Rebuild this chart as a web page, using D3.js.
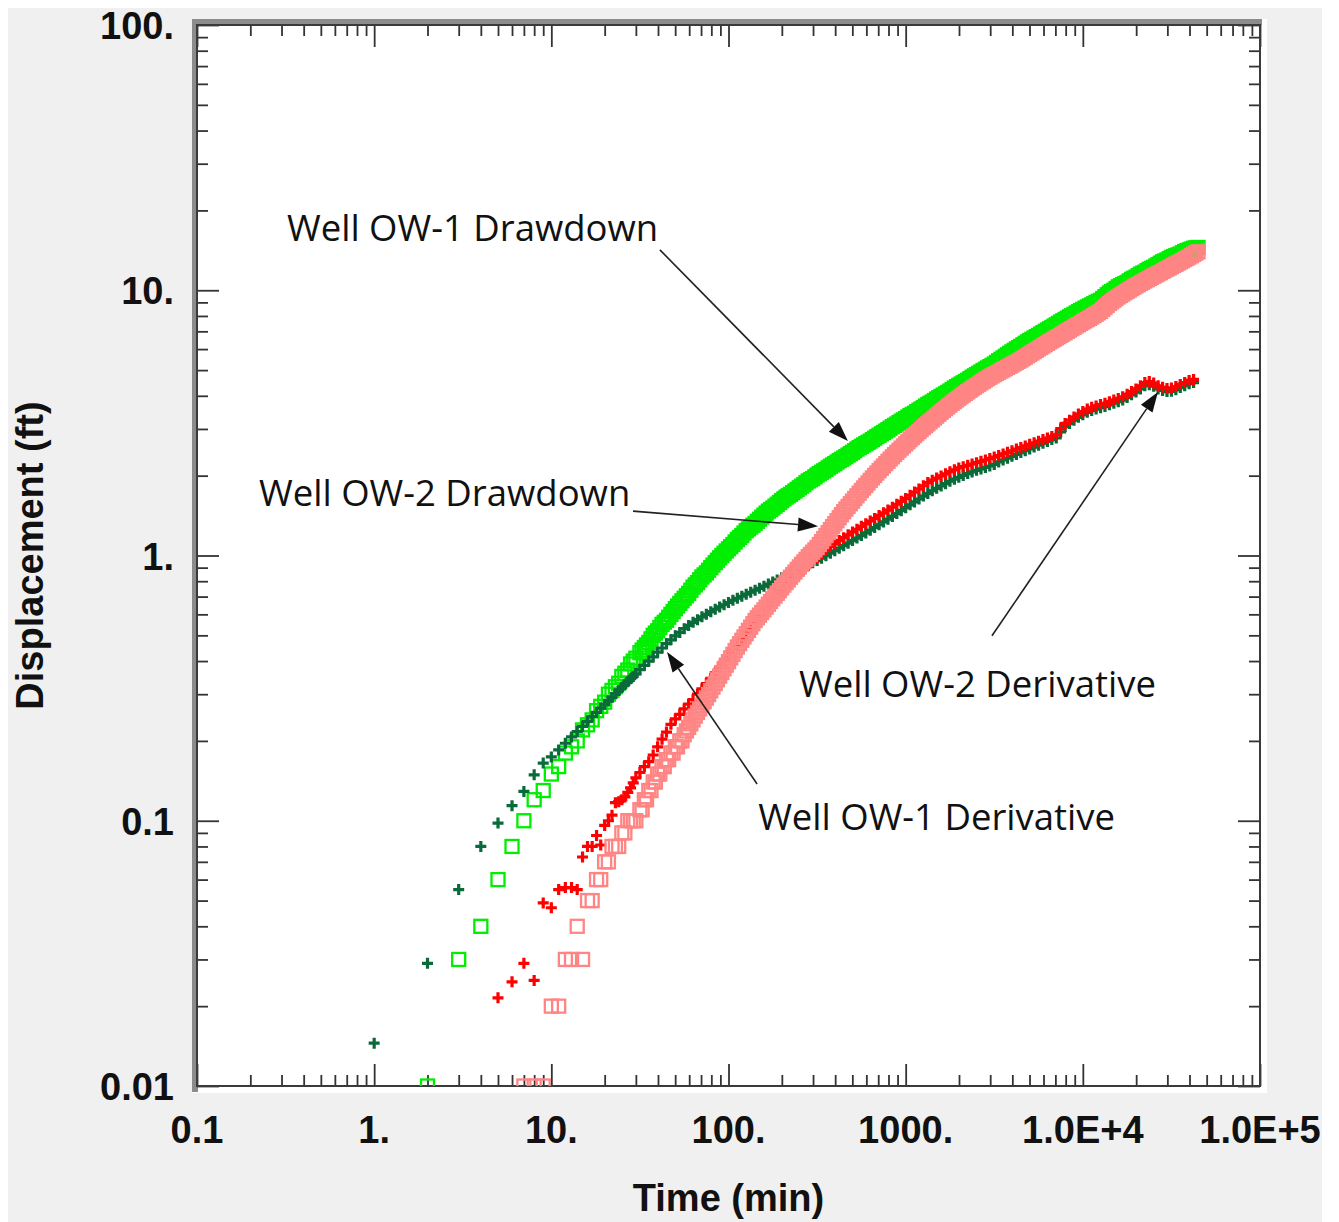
<!DOCTYPE html>
<html><head><meta charset="utf-8">
<script src="https://cdn.jsdelivr.net/npm/d3@7"></script>
<style>body{margin:0;background:#fff}</style>
</head><body>
<svg id="c" width="1339" height="1222"></svg>
<script>
// ---------------- DATA ----------------
// derivative sampling times (min)
const derivTime = [1,2,3,4,5,6,7,8,9,10,11,12,13,14,15,16,17,18,19,20,21,22,23,24,25,26,27,28,29,30,
 31.62,33.50,35.48,37.58,39.81,42.17,44.67,47.32,50.12,53.09,
 56.23,59.57,63.10,66.83,70.79,74.99,79.43,84.14,89.13,94.41,
 100,105.9,112.2,118.9,125.9,133.4,141.3,149.6,158.5,167.9,
 177.8,188.4,199.5,211.3,223.9,237.1,251.2,266.1,281.8,298.5,
 316.2,335.0,354.8,375.8,398.1,421.7,446.7,473.2,501.2,530.9,
 562.3,595.7,631.0,668.3,707.9,749.9,794.3,841.4,891.3,944.1,
 1000,1059,1122,1189,1259,1334,1413,1496,1585,1679,
 1778,1884,1995,2113,2239,2371,2512,2661,2818,2985,
 3162,3350,3548,3758,3981,4217,4467,4732,5012,5309,
 5623,5957,6310,6683,7079,7499,7943,8414,8913,9441,
 10000,10593,11220,11885,12589,13335,14125,14962,15849,16788,
 17783,18836,19953,21135,22387,23714,25119,26607,28184,29854,
 31623,33497,35481,37584,39811,42170,44668];

// drawdown sampling times (min)
const drawTime = [1,2,3,4,5,6,7,8,9,10,11,12,13,14,15,16,17,18,19,20,21,22,23,24,25,26,27,28,29,30,
 31.62,32.55,33.50,34.47,35.48,36.52,37.58,38.68,39.81,40.97,42.17,43.40,44.67,45.97,47.32,48.70,50.12,51.58,53.09,54.64,
 56.23,57.88,59.57,61.31,63.10,64.94,66.83,68.79,70.79,72.86,74.99,77.18,79.43,81.75,84.14,86.60,89.13,91.73,94.41,97.16,
 100,102.9,105.9,109.0,112.2,115.5,118.9,122.3,125.9,129.6,133.4,137.3,141.3,145.4,149.6,154.0,158.5,163.1,167.9,172.8,
 177.8,183.0,188.4,193.9,199.5,205.4,211.4,217.5,223.9,230.4,237.1,244.1,251.2,258.5,266.1,273.8,281.8,290.1,298.5,307.3,
 316.2,325.5,335.0,344.8,354.8,365.2,375.8,386.8,398.1,409.7,421.7,434.0,446.7,459.7,473.2,487.0,501.2,515.8,530.9,546.4,
 562.3,578.8,595.7,613.1,631.0,649.4,668.3,687.9,707.9,728.6,749.9,771.8,794.3,817.5,841.4,866.0,891.3,917.3,944.1,971.6,
 1000,1029,1059,1090,1122,1155,1189,1223,1259,1296,1334,1372,1413,1454,1496,1540,1585,1631,1679,1728,
 1778,1830,1884,1939,1995,2054,2114,2175,2239,2304,2371,2441,2512,2585,2661,2738,2818,2901,2985,3073,
 3162,3255,3350,3448,3548,3652,3758,3868,3981,4097,4217,4340,4467,4597,4732,4870,5012,5158,5309,5464,
 5623,5788,5957,6131,6310,6494,6683,6879,7079,7286,7499,7718,7943,8175,8414,8660,8913,9173,9441,9716,
 10000,10292,10593,10902,11220,11548,11885,12232,12589,12957,13335,13725,14125,14537,14962,15399,15849,16312,16788,17278,
 17783,18302,18836,19387,19953,20535,21135,21752,22387,23041,23714,24406,25119,25852,26607,27384,28184,29007,29854,30726,
 31623,32546,33497,34475,35481,36517,37584,38681,39811,40973,42170,43401,44668];

const ow1Drawdown = [null,0.01,0.03,0.04,0.06,0.08,0.10,0.12,0.13,0.15,0.16,0.18,0.19,0.20,0.22,0.23,0.24,0.26,0.27,0.28,0.30,0.31,0.32,0.33,0.35,0.36,0.37,0.39,0.40,0.41,
 0.43,0.44,0.45,0.46,0.47,0.485,0.50,0.51,0.52,0.535,0.55,0.56,0.57,0.585,0.60,0.615,0.63,0.645,0.66,0.675,
 0.69,0.705,0.72,0.74,0.76,0.775,0.79,0.81,0.83,0.845,0.86,0.88,0.90,0.92,0.94,0.96,0.98,1.00,1.02,1.04,
 1.06,1.08,1.10,1.125,1.15,1.17,1.19,1.215,1.24,1.26,1.28,1.30,1.32,1.345,1.37,1.395,1.42,1.445,1.47,1.49,
 1.51,1.535,1.56,1.585,1.61,1.635,1.66,1.68,1.70,1.725,1.75,1.775,1.80,1.825,1.85,1.88,1.91,1.93,1.95,1.98,
 2.01,2.035,2.06,2.085,2.11,2.14,2.17,2.195,2.22,2.25,2.28,2.305,2.33,2.36,2.39,2.42,2.45,2.485,2.52,2.55,
 2.58,2.61,2.64,2.67,2.70,2.735,2.77,2.805,2.84,2.875,2.91,2.945,2.98,3.02,3.06,3.095,3.13,3.17,3.21,3.245,
 3.28,3.325,3.37,3.405,3.44,3.485,3.53,3.57,3.61,3.66,3.71,3.75,3.79,3.84,3.89,3.935,3.98,4.025,4.07,4.12,
 4.17,4.225,4.28,4.33,4.38,4.43,4.48,4.53,4.58,4.64,4.70,4.755,4.81,4.865,4.92,4.98,5.04,5.095,5.15,5.21,
 5.27,5.345,5.42,5.49,5.56,5.635,5.71,5.785,5.86,5.935,6.01,6.08,6.15,6.23,6.31,6.385,6.46,6.535,6.61,6.685,
 6.76,6.84,6.92,7.00,7.08,7.16,7.24,7.325,7.41,7.50,7.59,7.675,7.76,7.85,7.94,8.025,8.11,8.205,8.30,8.385,
 8.47,8.56,8.65,8.73,8.81,8.905,9.00,9.08,9.16,9.31,9.46,9.615,9.77,9.885,10.0,10.15,10.3,10.4,10.5,10.6,
 10.7,10.85,11.0,11.1,11.2,11.35,11.5,11.6,11.7,11.85,12.0,12.1,12.2,12.35,12.5,12.65,12.8,12.9,13.0,13.15,
 13.3,13.4,13.5,13.6,13.7,13.85,14.0,14.1,14.2,14.3,14.4,14.45,14.5];

const ow2Drawdown = [null,null,null,null,null,null,0.01,0.01,0.01,0.02,0.02,0.03,0.03,0.04,0.03,0.05,0.05,0.06,0.06,0.07,0.07,0.08,0.08,0.08,0.09,0.09,0.10,0.10,0.10,0.10,
 0.11,0.11,0.12,0.12,0.13,0.13,0.14,0.14,0.15,0.15,0.16,0.16,0.17,0.17,0.18,0.18,0.19,0.19,0.20,0.20,
 0.211,0.218,0.225,0.232,0.240,0.248,0.256,0.264,0.272,0.281,0.290,0.299,0.309,0.319,0.329,0.340,0.351,0.362,0.374,0.386,
 0.398,0.411,0.424,0.438,0.452,0.465,0.479,0.493,0.507,0.522,0.537,0.553,0.569,0.582,0.596,0.610,0.624,0.639,0.655,0.671,
 0.687,0.703,0.720,0.737,0.755,0.773,0.791,0.809,0.828,0.847,0.866,0.886,0.906,0.926,0.946,0.967,0.989,1.009,1.029,1.050,
 1.072,1.100,1.128,1.158,1.189,1.220,1.252,1.285,1.318,1.353,1.388,1.425,1.462,1.496,1.531,1.567,1.603,1.641,1.679,1.718,
 1.758,1.797,1.837,1.878,1.919,1.961,2.003,2.046,2.089,2.132,2.175,2.220,2.265,2.310,2.355,2.402,2.449,2.495,2.541,2.588,
 2.636,2.684,2.733,2.782,2.831,2.881,2.931,2.982,3.034,3.085,3.137,3.190,3.243,3.298,3.353,3.410,3.467,3.522,3.577,3.633,
 3.690,3.746,3.802,3.859,3.917,3.972,4.027,4.083,4.140,4.195,4.251,4.308,4.365,4.421,4.477,4.534,4.592,4.645,4.699,4.753,
 4.808,4.858,4.909,4.960,5.012,5.064,5.117,5.170,5.224,5.282,5.340,5.399,5.458,5.525,5.592,5.660,5.728,5.798,5.868,5.940,
 6.012,6.085,6.158,6.234,6.310,6.383,6.457,6.532,6.607,6.684,6.761,6.839,6.918,6.998,7.079,7.161,7.244,7.328,7.413,7.499,
 7.586,7.670,7.754,7.839,7.925,8.022,8.119,8.218,8.318,8.464,8.610,8.761,8.913,9.043,9.173,9.307,9.441,9.556,9.672,9.790,
 9.908,10.02,10.14,10.26,10.38,10.49,10.61,10.72,10.84,10.95,11.07,11.18,11.30,11.41,11.53,11.65,11.78,11.90,12.02,12.14,
 12.27,12.40,12.53,12.66,12.79,12.92,13.06,13.20,13.34,13.49,13.65,13.80,13.96];

const ow1Derivative = [0.0145,0.029,0.055,0.080,0.098,0.114,0.129,0.149,0.165,0.174,0.185,0.196,0.207,0.217,0.227,0.237,0.247,0.256,0.266,0.275,0.283,0.292,0.301,0.310,0.318,0.326,0.334,0.343,0.350,0.358,
 0.371,0.385,0.400,0.415,0.432,0.448,0.465,0.481,0.498,0.513,
 0.530,0.545,0.560,0.573,0.587,0.600,0.614,0.627,0.640,0.652,
 0.665,0.678,0.690,0.702,0.715,0.727,0.740,0.752,0.766,0.780,
 0.794,0.809,0.824,0.839,0.855,0.871,0.887,0.904,0.920,0.939,
 0.957,0.977,0.998,1.020,1.042,1.065,1.089,1.113,1.138,1.163,
 1.189,1.216,1.245,1.275,1.306,1.338,1.371,1.404,1.439,1.476,
 1.514,1.552,1.592,1.633,1.675,1.714,1.754,1.791,1.828,1.866,
 1.905,1.939,1.972,2.004,2.037,2.065,2.094,2.120,2.148,2.175,
 2.203,2.254,2.291,2.328,2.366,2.404,2.443,2.483,2.523,2.564,
 2.606,2.649,2.692,2.735,2.773,2.924,3.062,3.148,3.236,3.319,
 3.396,3.467,3.524,3.565,3.606,3.648,3.698,3.750,3.802,3.855,
 3.945,4.036,4.130,4.246,4.365,4.406,4.345,4.246,4.188,4.150,
 4.159,4.217,4.295,4.365,4.446,4.487,null];

const ow2Derivative = [null,null,null,null,0.0215,0.0247,0.029,0.025,0.049,0.047,0.055,0.056,0.056,0.055,0.073,0.080,0.080,0.088,0.081,0.096,0.100,0.105,0.117,0.118,0.120,0.123,0.128,0.133,0.139,0.145,
 0.152,0.160,0.167,0.177,0.190,0.203,0.216,0.231,0.242,0.252,
 0.264,0.275,0.286,0.300,0.314,0.329,0.344,0.361,0.379,0.398,
 0.418,0.439,0.460,0.484,0.508,0.535,0.562,0.592,0.621,0.647,
 0.675,0.703,0.733,0.764,0.794,0.824,0.855,0.887,0.918,0.951,
 0.982,1.014,1.047,1.079,1.109,1.138,1.167,1.197,1.227,1.256,
 1.288,1.318,1.349,1.380,1.416,1.449,1.483,1.521,1.560,1.600,
 1.641,1.687,1.734,1.782,1.832,1.884,1.923,1.959,1.995,2.032,
 2.070,2.104,2.138,2.163,2.188,2.213,2.239,2.265,2.291,2.323,
 2.350,2.382,2.415,2.449,2.483,2.518,2.553,2.588,2.624,2.661,
 2.698,2.735,2.773,2.812,2.851,3.006,3.148,3.236,3.327,3.412,
 3.491,3.565,3.622,3.664,3.707,3.750,3.802,3.855,3.908,3.963,
 4.055,4.150,4.246,4.365,4.487,4.529,4.467,4.365,4.305,4.266,
 4.276,4.335,4.416,4.487,4.571,4.613,null];

const xTickValues = [0.1,1,10,100,1000,1e4,1e5];
const xTickLabels = ["0.1","1.","10.","100.","1000.","1.0E+4","1.0E+5"];
const yTickValues = [0.01,0.1,1,10,100];
const yTickLabels = ["0.01","0.1","1.","10.","100."];

// annotation labels (data coordinates: time, displacement)
const annotationText = ["Well OW-1 Drawdown","Well OW-2 Drawdown","Well OW-2 Derivative","Well OW-1 Derivative"];
const annotationAt   = [[0.322,15.3],[0.224,1.54],[250,0.293],[147,0.0922]];
const arrowFrom      = [[41.0,14.2],[28.9,1.47],[3070,0.498],[145,0.1376]];
const arrowTo        = [[472,2.70],[320,1.29],[26550,4.13],[45.0,0.4325]];

// ---------------- DRAW ----------------
const svg = d3.select("#c");
const L = 197, R = 1260, T = 25, B = 1086;
const x = d3.scaleLog().domain([0.1,1e5]).range([L,R]);
const y = d3.scaleLog().domain([0.01,100]).range([B,T]);

svg.append("rect").attr("x",8).attr("y",8).attr("width",1314).attr("height",1214).attr("fill","#f0f0f0");
svg.append("rect").attr("x",192).attr("y",19).attr("width",1075).attr("height",1074).attr("fill","#ffffff");
svg.append("rect").attr("x",192).attr("y",19).attr("width",6).attr("height",1073).attr("fill","#8c8c8c");
svg.append("rect").attr("x",192).attr("y",19).attr("width",1070).attr("height",6).attr("fill","#8c8c8c");

const defs = svg.append("defs");
defs.append("clipPath").attr("id","clip").append("rect")
  .attr("x",L).attr("y",T).attr("width",R-L).attr("height",B-T);

// ticks
const allX = x.ticks();
const minorX = allX.filter(v => Math.abs(Math.log10(v) - Math.round(Math.log10(v))) > 1e-6);
const allY = y.ticks();
const minorY = allY.filter(v => Math.abs(Math.log10(v) - Math.round(Math.log10(v))) > 1e-6);

function styleAxis(g){
  g.select(".domain").remove();
  g.selectAll(".tick line").attr("stroke","#333").attr("stroke-width",1.8);
  g.selectAll(".tick text").remove();
}
const axes = [
  [d3.axisBottom(x), `translate(0,${B})`, xTickValues, minorX],
  [d3.axisTop(x), `translate(0,${T})`, xTickValues, minorX],
  [d3.axisLeft(y), `translate(${L},0)`, yTickValues, minorY],
  [d3.axisRight(y), `translate(${R},0)`, yTickValues, minorY]
];
axes.forEach(([ax,tr,maj,min])=>{
  svg.append("g").attr("transform",tr).call(ax.tickValues(maj).tickSize(-22).tickFormat(()=>"")).call(styleAxis);
  svg.append("g").attr("transform",tr).call(ax.tickValues(min).tickSize(-11).tickFormat(()=>"")).call(styleAxis);
});

// frame
svg.append("rect").attr("x",L).attr("y",T).attr("width",R-L).attr("height",B-T)
  .attr("fill","none").attr("stroke","#3a3a3a").attr("stroke-width",2);

// series
const plot = svg.append("g").attr("clip-path","url(#clip)");
function pts(times,vals){ return times.map((t,i)=>[t,vals[i]]).filter(d=>d[1]!=null); }
function squares(times,vals,color){
  plot.append("g").selectAll("rect").data(pts(times,vals)).join("rect")
    .attr("x",d=>x(d[0])-6.5).attr("y",d=>y(d[1])-6.5).attr("width",13).attr("height",13)
    .attr("fill","none").attr("stroke",color).attr("stroke-width",2.3);
}
function pluses(times,vals,color){
  plot.append("g").selectAll("path").data(pts(times,vals)).join("path")
    .attr("transform",d=>`translate(${x(d[0])},${y(d[1])})`)
    .attr("d","M-5.5,0H5.5M0,-5.5V5.5").attr("fill","none").attr("stroke",color).attr("stroke-width",3.2);
}
squares(drawTime,ow1Drawdown,"#00ee00");
pluses(derivTime,ow1Derivative,"#0a6b3a");
pluses(derivTime,ow2Derivative,"#ff0000");
squares(drawTime,ow2Drawdown,"#ff8585");

// tick labels
const bold = "'Liberation Sans', Arial, sans-serif";
svg.append("g").selectAll("text").data(xTickValues).join("text")
  .attr("x",d=>x(d)).attr("y",1143).attr("text-anchor","middle")
  .attr("font-family",bold).attr("font-weight","bold").attr("font-size",38).attr("fill","#111")
  .text((d,i)=>xTickLabels[i]);
svg.append("g").selectAll("text").data(yTickValues).join("text")
  .attr("x",174).attr("y",d=>y(d)+14).attr("text-anchor","end")
  .attr("font-family",bold).attr("font-weight","bold").attr("font-size",38).attr("fill","#111")
  .text((d,i)=>yTickLabels[i]);

// axis titles
svg.append("text").attr("x",(L+R)/2).attr("y",1211).attr("text-anchor","middle")
  .attr("font-family",bold).attr("font-weight","bold").attr("font-size",38).attr("fill","#111")
  .text("Time (min)");
svg.append("text").attr("transform",`translate(43,${(T+B)/2}) rotate(-90)`).attr("text-anchor","middle")
  .attr("font-family",bold).attr("font-weight","bold").attr("font-size",38).attr("fill","#111")
  .text("Displacement (ft)");

// annotations
const ann = svg.append("g");
annotationText.forEach((txt,i)=>{
  ann.append("text").attr("x",x(annotationAt[i][0])).attr("y",y(annotationAt[i][1]))
    .attr("font-family","'Open Sans', 'Noto Sans', sans-serif").attr("font-size",36.5).attr("fill","#111")
    .text(txt);
  const x1=x(arrowFrom[i][0]), y1=y(arrowFrom[i][1]), x2=x(arrowTo[i][0]), y2=y(arrowTo[i][1]);
  const ang=Math.atan2(y2-y1,x2-x1), len=20, hw=7;
  const bx=x2-len*Math.cos(ang), by=y2-len*Math.sin(ang);
  ann.append("line").attr("x1",x1).attr("y1",y1).attr("x2",bx).attr("y2",by)
    .attr("stroke","#222").attr("stroke-width",1.6);
  ann.append("path").attr("d",`M${x2},${y2}L${bx+hw*Math.sin(ang)},${by-hw*Math.cos(ang)}L${bx-hw*Math.sin(ang)},${by+hw*Math.cos(ang)}Z`)
    .attr("fill","#111");
});
</script>
</body></html>
